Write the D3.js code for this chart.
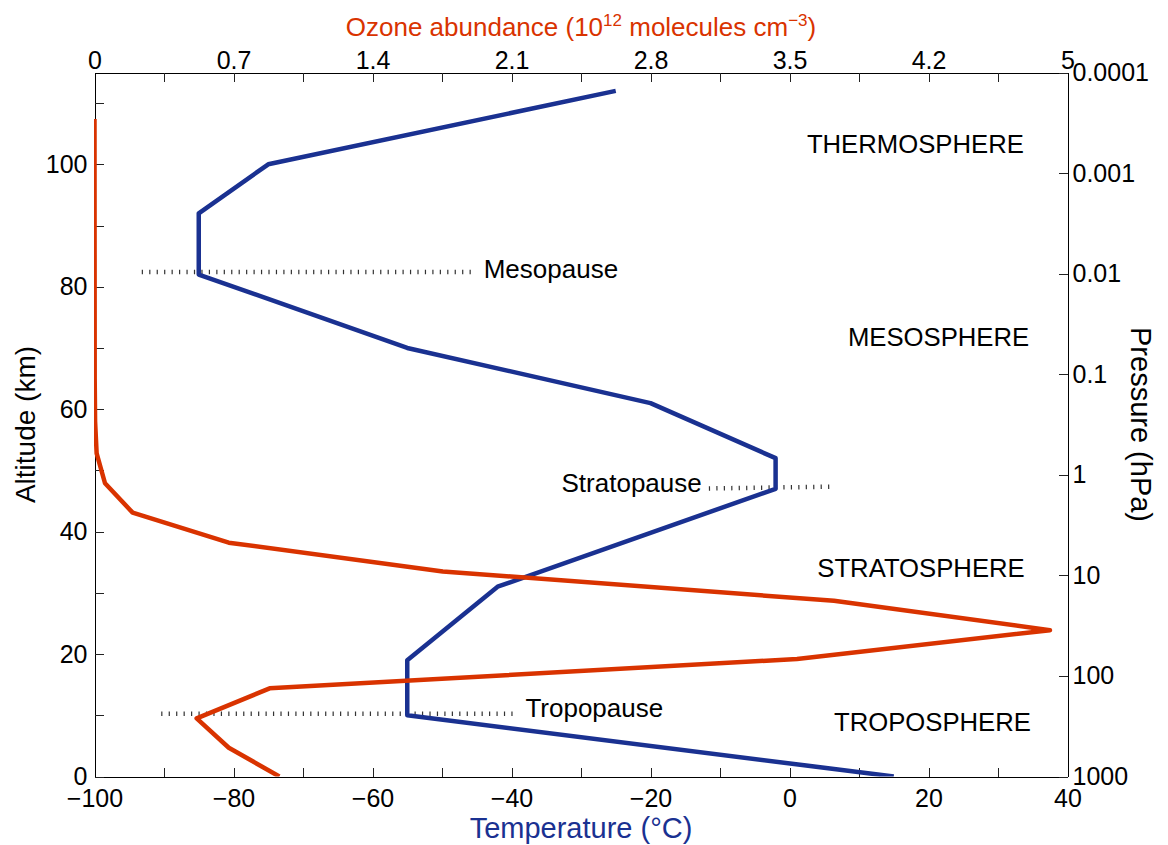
<!DOCTYPE html>
<html>
<head>
<meta charset="utf-8">
<title>Atmosphere temperature and ozone</title>
<script src="https://cdn.jsdelivr.net/npm/d3@7/dist/d3.min.js"></script>
<style>
    html, body {margin:0; padding:0; background:#fff;}
    svg text {font-family: "Liberation Sans", Arial, Helvetica, sans-serif;}
</style>
</head>
<body>
<div id="chart"></div>
<script>
//temperature profile (altitude km, temperature C)
var tempAltitude = [0, 10, 19, 31, 47, 52, 61, 70, 82, 92, 100, 112];
var tempValues = [15, -55, -55, -42, -2, -2, -20, -55, -85, -85, -75, -25];

//ozone profile (altitude km, 10^12 molecules cm^-3)
var ozoneAltitude = [0, 4.7, 9.5, 14.4, 19.2, 23.9, 28.7, 33.5, 38.2, 43.1, 47.9, 52.8, 58, 65, 107.4];
var ozoneValues = [0.95, 0.69, 0.525, 0.9, 3.61, 4.91, 3.8, 1.79, 0.69, 0.196, 0.054, 0.011, 0.003, 0.001, 0];

//axis ticks
var tempTicks = [-100, -90, -80, -70, -60, -50, -40, -30, -20, -10, 0, 10, 20, 30, 40];
var tempTickLabels = ["\u2212100", "", "\u221280", "", "\u221260", "", "\u221240", "", "\u221220", "", "0", "", "20", "", "40"];
var ozoneTickLabels = ["0", "", "0.7", "", "1.4", "", "2.1", "", "2.8", "", "3.5", "", "4.2", "", "5"];
var altTicks = [0, 10, 20, 30, 40, 50, 60, 70, 80, 90, 100, 110];
var altTickLabels = ["0", "", "20", "", "40", "", "60", "", "80", "", "100", ""];
var pressureTicks = [1000, 100, 10, 1, 0.1, 0.01, 0.001, 0.0001];
var pressureTickLabels = ["1000", "100", "10", "1", "0.1", "0.01", "0.001", "0.0001"];

//layer names and the pause lines
var layerNames = ["THERMOSPHERE", "MESOSPHERE", "STRATOSPHERE", "TROPOSPHERE"];
var pauseNames = ["Mesopause", "Stratopause", "Tropopause"];

(function(){

    var W = 1168, H = 845;
    var left = 94.5, right = 1067.5, top = 72.5, bottom = 776.5;
    var red = "#d93300", blue = "#1a3191";

    var svg = d3.select("#chart").append("svg")
        .attr("width", W)
        .attr("height", H);

    var x = d3.scaleLinear().domain([-100, 40]).range([left, right]);
    var xOzone = d3.scaleLinear().domain([0, 5]).range([left, right]);
    var y = d3.scaleLinear().domain([0, 115]).range([bottom, top]);
    var yP = d3.scaleLog().domain([1000, 0.0001]).range([bottom, top]);

    //top ticks sit at the same places as the temperature ticks
    var ozoneTicks = tempTicks.map(function(t){ return xOzone.invert(x(t)); });

    function styleAxis(g){
        g.selectAll("path").attr("stroke", "#000").attr("stroke-width", 1).attr("shape-rendering", "crispEdges");
        g.selectAll("line").attr("stroke", "#222").attr("stroke-width", 1).attr("shape-rendering", "crispEdges");
        g.selectAll("text").attr("fill", "#000").style("font-size", "25px");
    }

    svg.append("g")
        .attr("transform", "translate(0," + bottom + ")")
        .call(d3.axisBottom(x).tickValues(tempTicks).tickSize(-9).tickSizeOuter(0).tickPadding(13)
            .tickFormat(function(d, i){ return tempTickLabels[i]; }))
        .call(styleAxis);

    svg.append("g")
        .attr("transform", "translate(0," + top + ")")
        .call(d3.axisTop(xOzone).tickValues(ozoneTicks).tickSize(-9).tickSizeOuter(0).tickPadding(4)
            .tickFormat(function(d, i){ return ozoneTickLabels[i]; }))
        .call(styleAxis);

    svg.append("g")
        .attr("transform", "translate(" + left + ",0)")
        .call(d3.axisLeft(y).tickValues(altTicks).tickSize(-9).tickSizeOuter(0).tickPadding(7)
            .tickFormat(function(d, i){ return altTickLabels[i]; }))
        .call(styleAxis);

    svg.append("g")
        .attr("transform", "translate(" + right + ",0)")
        .call(d3.axisRight(yP).tickValues(pressureTicks).tickSize(-9).tickSizeOuter(0).tickPadding(5)
            .tickFormat(function(d, i){ return pressureTickLabels[i]; }))
        .call(styleAxis);

    //axis titles
    var ozTitle = svg.append("text")
        .attr("x", (left + right) / 2)
        .attr("y", 36)
        .attr("text-anchor", "middle")
        .attr("fill", red)
        .style("font-size", "26px");
    ozTitle.append("tspan").text("Ozone abundance (10");
    ozTitle.append("tspan").attr("dy", -10).style("font-size", "17px").text("12");
    ozTitle.append("tspan").attr("dy", 10).text(" molecules cm");
    ozTitle.append("tspan").attr("dy", -10).style("font-size", "17px").text("\u22123");
    ozTitle.append("tspan").attr("dy", 10).text(")");

    svg.append("text")
        .attr("x", (left + right) / 2)
        .attr("y", 838)
        .attr("text-anchor", "middle")
        .attr("fill", blue)
        .style("font-size", "29px")
        .text("Temperature (\u00b0C)");

    svg.append("text")
        .attr("transform", "translate(35," + ((top + bottom) / 2) + ") rotate(-90)")
        .attr("text-anchor", "middle")
        .style("font-size", "28px")
        .text("Altitude (km)");

    svg.append("text")
        .attr("transform", "translate(1131," + ((top + bottom) / 2) + ") rotate(90)")
        .attr("text-anchor", "middle")
        .style("font-size", "29px")
        .text("Pressure (hPa)");

    //pause lines, drawn as rows of little vertical dashes
    var pauseLines = [
        {name: pauseNames[0], t0: -93.2, a0: 82.4, t1: -45.0, a1: 82.4, lx: -44, la: 81.4},
        {name: pauseNames[1], t0: -11.6, a0: 47.05, t1: 6.3, a1: 47.35, lx: -32.8, la: 46.5},
        {name: pauseNames[2], t0: -90.4, a0: 10.25, t1: -39.0, a1: 10.25, lx: -38, la: 9.77}
    ];
    pauseLines.forEach(function(p){
        svg.append("line")
            .attr("x1", x(p.t0)).attr("y1", y(p.a0))
            .attr("x2", x(p.t1)).attr("y2", y(p.a1))
            .attr("stroke", "#333")
            .attr("stroke-width", 4.5)
            .attr("stroke-dasharray", "1.2 6.25");
        svg.append("text")
            .attr("x", x(p.lx))
            .attr("y", y(p.la))
            .style("font-size", "26px")
            .text(p.name);
    });

    //layer names
    var layerPos = [[2.5, 101.8], [8.4, 70.4], [4.0, 32.6], [6.4, 7.4]];
    layerNames.forEach(function(n, i){
        svg.append("text")
            .attr("x", x(layerPos[i][0]))
            .attr("y", y(layerPos[i][1]))
            .style("font-size", "25.7px")
            .text(n);
    });

    svg.append("clipPath").attr("id", "plotClip")
        .append("rect")
        .attr("x", left - 0.5).attr("y", top - 0.5)
        .attr("width", right - left + 1).attr("height", bottom - top + 0.5);

    var plot = svg.append("g").attr("clip-path", "url(#plotClip)");

    var tempLine = d3.line()
        .x(function(d, i){ return x(tempValues[i]); })
        .y(function(d, i){ return y(tempAltitude[i]); });

    var ozoneLine = d3.line()
        .x(function(d, i){ return xOzone(ozoneValues[i]); })
        .y(function(d, i){ return y(ozoneAltitude[i]); });

    plot.append("path")
        .attr("d", tempLine(tempAltitude))
        .attr("fill", "none")
        .attr("stroke", blue)
        .attr("stroke-width", 4.5)
        .attr("stroke-linejoin", "round");

    plot.append("path")
        .attr("d", ozoneLine(ozoneAltitude))
        .attr("fill", "none")
        .attr("stroke", red)
        .attr("stroke-width", 4.5)
        .attr("stroke-linejoin", "round");

})();
</script>
</body>
</html>
